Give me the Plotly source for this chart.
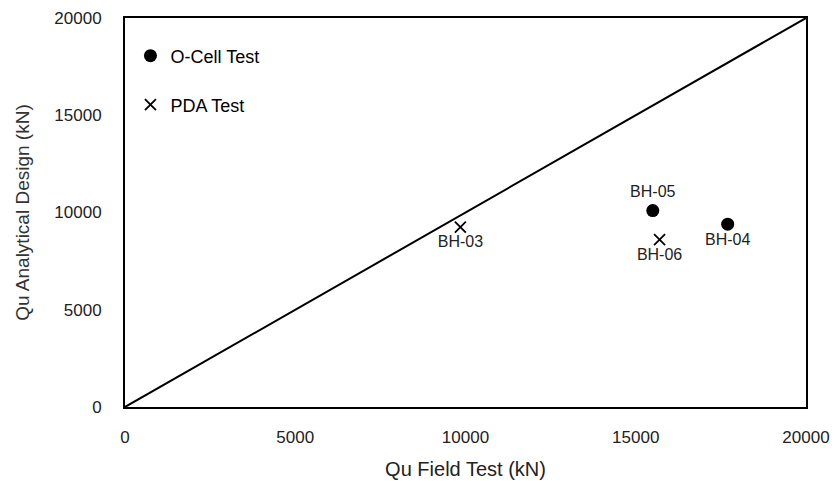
import plotly.graph_objects as go

ocell_labels = ["BH-05", "BH-04"]
ocell_field = [15500, 17700]
ocell_design = [10100, 9400]
ocell_textpos = ["top center", "bottom center"]

pda_labels = ["BH-03", "BH-06"]
pda_field = [9850, 15700]
pda_design = [9250, 8600]
pda_textpos = ["bottom center", "bottom center"]

line_x = [0, 20000]
line_y = [0, 20000]

tick_vals = [0, 5000, 10000, 15000, 20000]
tick_text = ["0", "5000", "10000", "15000", "20000"]

lab_font = dict(family="Liberation Sans, Arial, sans-serif", size=16, color="#222")

fig = go.Figure()
fig.add_trace(go.Scatter(x=line_x, y=line_y, mode="lines",
                         line=dict(color="black", width=2), showlegend=False, hoverinfo="skip"))
fig.add_trace(go.Scatter(x=ocell_field, y=ocell_design, mode="markers+text", name="O-Cell Test",
                         text=ocell_labels, textposition=ocell_textpos, textfont=lab_font,
                         marker=dict(symbol="circle", size=13, color="black"), legend="legend"))
fig.add_trace(go.Scatter(x=pda_field, y=pda_design, mode="markers+text", name="PDA Test",
                         text=pda_labels, textposition=pda_textpos, textfont=lab_font,
                         marker=dict(symbol="x-thin", size=11, color="black",
                                     line=dict(color="black", width=1.8)), legend="legend2"))

leg_font = dict(family="Liberation Sans Narrow, Liberation Sans, Arial, sans-serif", size=18, color="black")
fig.update_layout(
    width=835, height=481,
    margin=dict(l=125, r=29, t=18, b=74),
    paper_bgcolor="white", plot_bgcolor="white",
    showlegend=True,
    legend=dict(x=0.008, y=0.95, xanchor="left", yanchor="top", bgcolor="rgba(0,0,0,0)",
                font=leg_font, itemwidth=30, tracegroupgap=0),
    legend2=dict(x=0.008, y=0.824, xanchor="left", yanchor="top", bgcolor="rgba(0,0,0,0)",
                 font=leg_font, itemwidth=30, tracegroupgap=0),
    xaxis=dict(range=[0, 20000], tickvals=tick_vals, ticktext=tick_text, showgrid=False, zeroline=False,
               showline=True, mirror=True, linecolor="black", linewidth=2, ticks="",
               ticklabelstandoff=14, automargin=False,
               tickfont=dict(family="Liberation Sans, Arial, sans-serif", size=17, color="#222"),
               title=dict(text="Qu Field Test (kN)", standoff=16,
                          font=dict(family="Liberation Sans Narrow, Liberation Sans, Arial, sans-serif", size=20, color="#222"))),
    yaxis=dict(range=[0, 20000], tickvals=tick_vals, ticktext=tick_text, showgrid=False, zeroline=False,
               showline=True, mirror=True, linecolor="black", linewidth=2, ticks="",
               ticklabelstandoff=18, automargin=False,
               tickfont=dict(family="Liberation Sans, Arial, sans-serif", size=17, color="#222"),
               title=dict(text="Qu Analytical Design (kN)", standoff=20,
                          font=dict(family="Liberation Sans, Arial, sans-serif", size=19, color="#333"))),
)

fig.write_html("out.html")
